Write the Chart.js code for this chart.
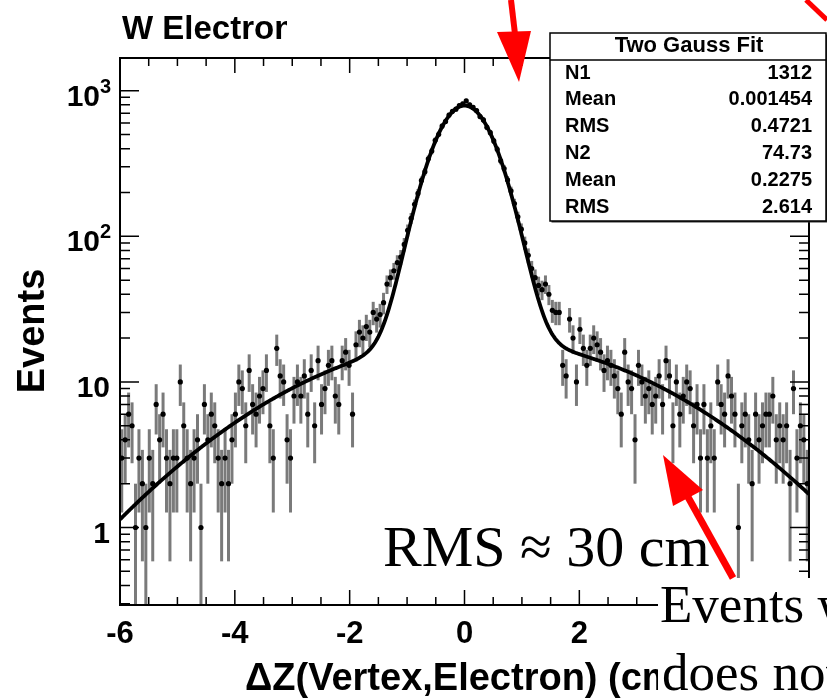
<!DOCTYPE html>
<html>
<head>
<meta charset="utf-8">
<script src="https://cdn.jsdelivr.net/npm/chart.js@4/dist/chart.umd.min.js"></script>
<style>
  html, body { margin: 0; padding: 0; background: #fff; }
  #wrap { position: relative; width: 827px; height: 699px; }
</style>
</head>
<body>
<div id="wrap"><canvas id="c" width="827" height="699"></canvas></div>
<script>
// Histogram of dZ(vertex, electron): 200 bins of 0.06 cm from -6 to 6
const binLow = -6;
const binWidth = 0.06;
const counts = [
  3, 4, 6, 5, 1, 3, 2, 1, 3, 2,
  7, 4, 6, 3, 2, 3, 3, 10, 5, 3,
  2, 3, 4, 1, 7, 4, 6, 5, 3, 2,
  3, 2, 4, 6, 10, 9, 5, 12, 7, 6,
  8, 9, 12, 5, 3, 17, 11, 10, 4, 3,
  8, 10, 8, 11, 6, 12, 5, 14, 7, 9,
  13, 14, 8, 7, 14, 16, 13, 6, 18, 22,
  20, 24, 22, 30, 27, 29, 35, 47, 52, 58,
  66, 72, 88, 110, 133, 166, 197, 242, 278, 341,
  385, 456, 502, 572, 615, 681, 722, 746, 790, 812,
  850, 801, 768, 730, 664, 630, 560, 515, 452, 396,
  330, 292, 244, 205, 168, 136, 112, 90, 74, 60,
  52, 46, 43, 47, 40, 31, 30, 30, 13, 11,
  27, 20, 10, 23, 17, 13, 17, 20, 18, 16,
  12, 14, 13, 11, 9, 6, 16, 10, 9, 4,
  13, 10, 8, 9, 7, 8, 11, 7, 14, 11,
  5, 10, 6, 8, 10, 9, 5, 7, 3, 7,
  3, 5, 3, 10, 7, 6, 11, 8, 6, 1,
  5, 6, 4, 2, 6, 4, 5, 6, 6, 8,
  4, 5, 4, 5, 2, 9, 3, 5, 4, 2
];

// Axis ranges and labelled ticks
const xRange = [-6, 6];
const yRange = [0.2937, 1677];
const xTickLabels = [-6, -4, -2, 0, 2, 4, 6];
const xMinorStep = 0.5;
const yDecades = [1, 10, 100, 1000];

// Two-Gauss fit parameters (stats box) and the component heights
const fitNames = ['N1', 'Mean', 'RMS', 'N2', 'Mean', 'RMS'];
const fitText = ['1312', '0.001454', '0.4721', '74.73', '0.2275', '2.614'];
const fitMean = [0.001454, 0.2275];
const fitRMS = [0.4721, 2.614];
const fitPeak = [770, 19.4];

const centers = counts.map((_, i) => binLow + binWidth * (i + 0.5));
const points = [];
counts.forEach((n, i) => { if (n > 0) points.push({ x: centers[i], y: n }); });

function twoGauss(x) {
  let s = 0;
  for (let k = 0; k < 2; k++) {
    const d = (x - fitMean[k]) / fitRMS[k];
    s += fitPeak[k] * Math.exp(-0.5 * d * d);
  }
  return s;
}
const fitCurve = [];
for (let i = 0; i <= 600; i++) {
  const x = xRange[0] + (xRange[1] - xRange[0]) * i / 600;
  fitCurve.push({ x, y: twoGauss(x) });
}

const SANS = '"Liberation Sans", Arial, Helvetica, sans-serif';
const SERIF = '"Liberation Serif", "Times New Roman", serif';

function redArrow(ctx, tail, base, tip, c1, c2, w) {
  ctx.save();
  ctx.strokeStyle = '#ff0000';
  ctx.fillStyle = '#ff0000';
  ctx.lineWidth = w;
  ctx.beginPath();
  ctx.moveTo(tail[0], tail[1]);
  ctx.lineTo(base[0], base[1]);
  ctx.stroke();
  ctx.beginPath();
  ctx.moveTo(tip[0], tip[1]);
  ctx.lineTo(c1[0], c1[1]);
  ctx.lineTo(c2[0], c2[1]);
  ctx.closePath();
  ctx.fill();
  ctx.restore();
}

const histPlugin = {
  id: 'histDecor',
  beforeDatasetsDraw(chart) {
    const { ctx, chartArea: a, scales: { x, y } } = chart;
    ctx.save();
    ctx.beginPath();
    ctx.rect(a.left, a.top, a.right - a.left, a.bottom - a.top);
    ctx.clip();
    // statistical error bars
    ctx.strokeStyle = 'rgba(40,40,40,0.62)';
    ctx.lineWidth = 3;
    counts.forEach((n, i) => {
      if (n <= 0) return;
      const e = Math.sqrt(n);
      const px = x.getPixelForValue(centers[i]);
      const top = y.getPixelForValue(n + e);
      const bot = n - e > 0 ? y.getPixelForValue(n - e) : a.bottom;
      ctx.beginPath();
      ctx.moveTo(px, top);
      ctx.lineTo(px, bot);
      ctx.stroke();
    });
    // bin-width bars
    ctx.strokeStyle = '#000';
    ctx.lineWidth = 1.4;
    counts.forEach((n, i) => {
      if (n <= 0) return;
      const py = y.getPixelForValue(n);
      ctx.beginPath();
      ctx.moveTo(x.getPixelForValue(binLow + binWidth * i), py);
      ctx.lineTo(x.getPixelForValue(binLow + binWidth * (i + 1)), py);
      ctx.stroke();
    });
    ctx.restore();
  },
  afterDraw(chart) {
    const { ctx, chartArea: a, scales: { x, y } } = chart;
    ctx.save();
    // frame
    ctx.strokeStyle = '#000';
    ctx.lineWidth = 2;
    ctx.strokeRect(a.left, a.top, a.right - a.left, a.bottom - a.top);
    // x ticks (bottom and top)
    ctx.lineWidth = 1.5;
    for (let v = xRange[0]; v <= xRange[1] + 1e-9; v += xMinorStep) {
      const px = x.getPixelForValue(v);
      const major = xTickLabels.includes(v);
      const len = major ? 15 : 8;
      ctx.beginPath();
      ctx.moveTo(px, a.bottom); ctx.lineTo(px, a.bottom - len);
      ctx.moveTo(px, a.top); ctx.lineTo(px, a.top + len);
      ctx.stroke();
    }
    // y ticks (left and right)
    for (let d = 0.1; d <= 1000; d *= 10) {
      for (let k = 1; k <= 9; k++) {
        const v = d * k;
        if (v < yRange[0] || v > yRange[1]) continue;
        const py = y.getPixelForValue(v);
        const len = k === 1 ? 19 : 10;
        ctx.beginPath();
        ctx.moveTo(a.left, py); ctx.lineTo(a.left + len, py);
        ctx.moveTo(a.right, py); ctx.lineTo(a.right - len, py);
        ctx.stroke();
      }
    }
    // x tick labels
    ctx.fillStyle = '#000';
    ctx.font = 'bold 31px ' + SANS;
    ctx.textAlign = 'center';
    ctx.textBaseline = 'alphabetic';
    xTickLabels.forEach(v => {
      ctx.fillText(String(v), x.getPixelForValue(v), 643);
    });
    // y tick labels
    yDecades.forEach(v => {
      const py = y.getPixelForValue(v) + 15;
      const exp = Math.round(Math.log10(v));
      ctx.textAlign = 'right';
      ctx.font = 'bold 30px ' + SANS;
      if (exp <= 1) {
        ctx.fillText(String(v), 110, py);
      } else {
        ctx.fillText('10', 100, py);
        ctx.font = 'bold 20px ' + SANS;
        ctx.textAlign = 'left';
        ctx.fillText(String(exp), 100, py - 13);
      }
    });
    // axis titles
    ctx.font = 'bold 38px ' + SANS;
    ctx.textAlign = 'left';
    ctx.fillText('\u0394Z(Vertex,Electron) (cm)', 245, 690);
    ctx.save();
    ctx.translate(44, 331);
    ctx.rotate(-Math.PI / 2);
    ctx.textAlign = 'center';
    ctx.fillText('Events', 0, 0);
    ctx.restore();
    // title, clipped by its pad
    ctx.save();
    ctx.beginPath();
    ctx.rect(100, 0, 187, 55);
    ctx.clip();
    ctx.font = 'bold 33px ' + SANS;
    ctx.textAlign = 'left';
    ctx.fillText('W Electron', 122, 39);
    ctx.restore();
    // stats box
    const bx = 550, by = 33, bw = 276, bh = 188;
    ctx.fillStyle = '#333';
    ctx.fillRect(bx + 1.5, by + 1.5, bw, bh);
    ctx.fillStyle = '#fff';
    ctx.fillRect(bx, by, bw, bh);
    ctx.strokeStyle = '#000';
    ctx.lineWidth = 1.5;
    ctx.strokeRect(bx, by, bw, bh);
    ctx.beginPath();
    ctx.moveTo(bx, 60); ctx.lineTo(bx + bw, 60);
    ctx.stroke();
    ctx.fillStyle = '#000';
    ctx.font = 'bold 22px ' + SANS;
    ctx.textAlign = 'center';
    ctx.textBaseline = 'middle';
    ctx.fillText('Two Gauss Fit', 689, 46);
    ctx.font = 'bold 20px ' + SANS;
    fitNames.forEach((nm, i) => {
      const ry = 73 + i * 26.8;
      ctx.textAlign = 'left';
      ctx.fillText(nm, 565, ry);
      ctx.textAlign = 'right';
      ctx.fillText(fitText[i], 812, ry);
    });
    ctx.textBaseline = 'alphabetic';
    // overlaid notes
    ctx.fillStyle = '#fff';
    ctx.fillRect(658, 578, 169, 121);
    ctx.fillStyle = '#000';
    ctx.font = '58px ' + SERIF;
    ctx.textAlign = 'left';
    ctx.fillText('RMS \u2248 30 cm', 383, 566);
    ctx.font = '53px ' + SERIF;
    ctx.fillText('Events with', 660, 622);
    ctx.fillText('does not', 662, 690);
    // arrows
    redArrow(ctx, [511, 0], [515, 34], [519, 82], [497, 32], [531, 31], 6);
    redArrow(ctx, [733, 578], [688, 497], [663, 455], [673, 506], [703, 490], 7);
    ctx.strokeStyle = '#ff0000';
    ctx.lineWidth = 5;
    ctx.beginPath();
    ctx.moveTo(806, 0); ctx.lineTo(827, 20);
    ctx.stroke();
    ctx.restore();
  }
};

new Chart(document.getElementById('c'), {
  type: 'scatter',
  data: {
    datasets: [
      {
        label: 'fit',
        type: 'line',
        data: fitCurve,
        borderColor: '#000',
        borderWidth: 3.8,
        pointRadius: 0,
        tension: 0,
        fill: false,
        order: 0
      },
      {
        label: 'data',
        data: points,
        backgroundColor: '#000',
        borderColor: '#000',
        pointRadius: 2.6,
        pointBorderWidth: 0,
        order: 1
      }
    ]
  },
  options: {
    responsive: false,
    animation: false,
    devicePixelRatio: 1,
    layout: { padding: { left: 120, right: 18, top: 58, bottom: 94 } },
    plugins: { legend: { display: false }, tooltip: { enabled: false } },
    scales: {
      x: { type: 'linear', min: xRange[0], max: xRange[1], bounds: 'data', display: false },
      y: { type: 'logarithmic', min: yRange[0], max: yRange[1], bounds: 'data', display: false }
    }
  },
  plugins: [histPlugin]
});
</script>
</body>
</html>
